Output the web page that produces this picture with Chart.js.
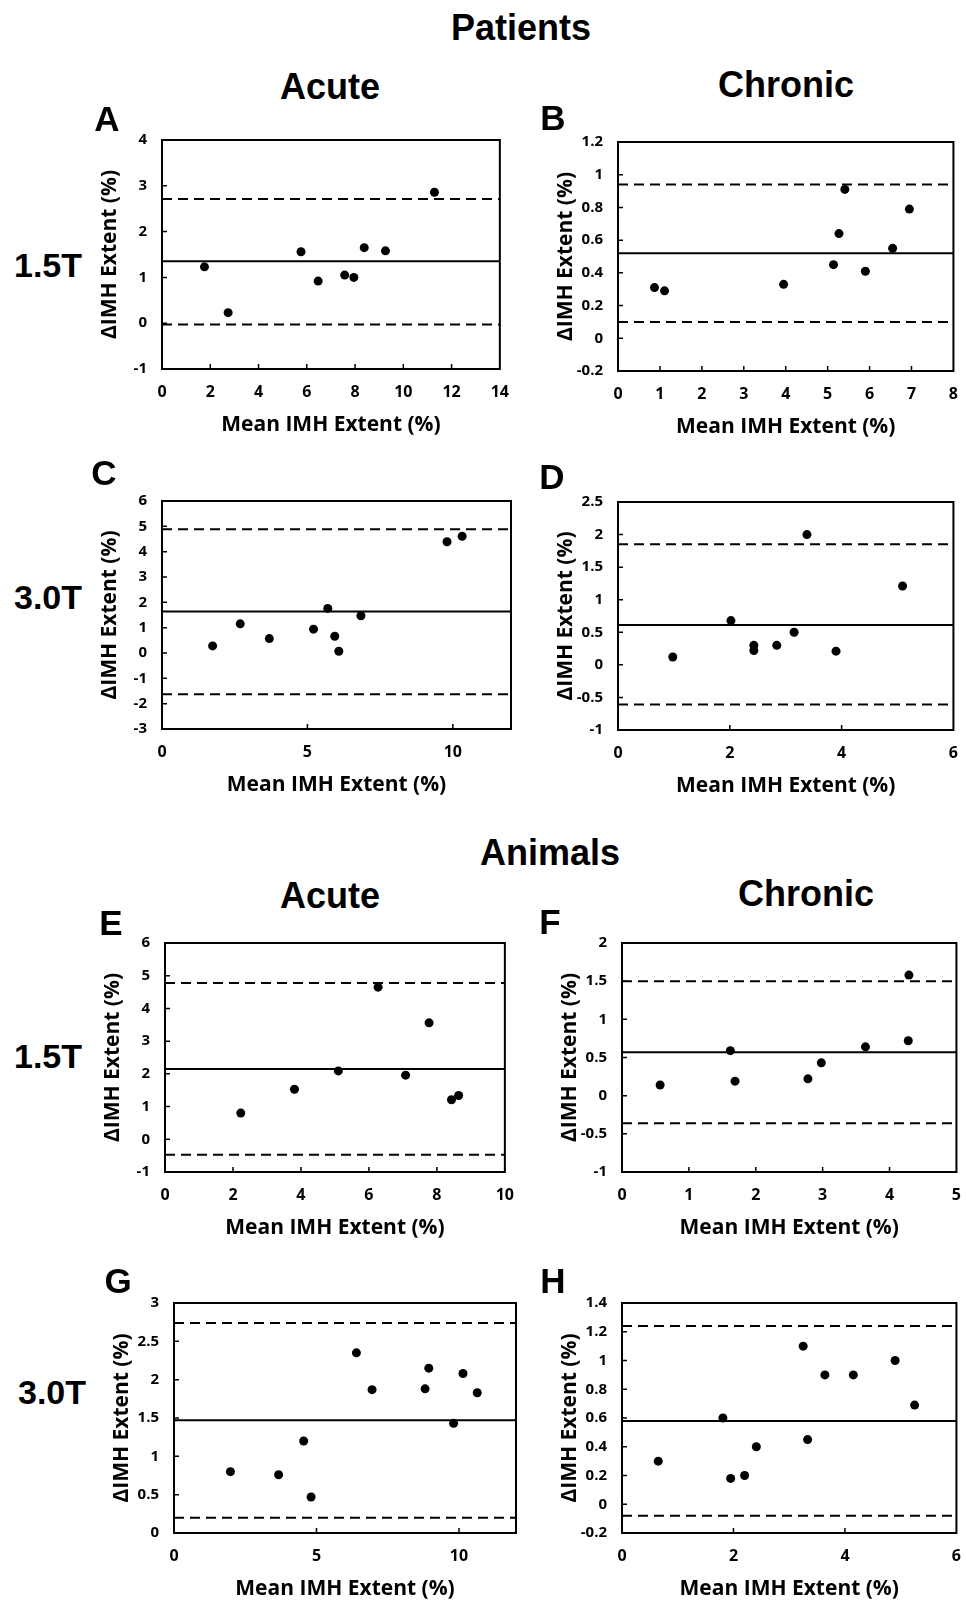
<!DOCTYPE html>
<html>
<head>
<meta charset="utf-8">
<script src="https://cdn.jsdelivr.net/npm/chart.js@4.4.1/dist/chart.umd.min.js"></script>
<style>
  html, body { margin: 0; padding: 0; background: #fff; overflow: hidden; }
  body { width: 966px; height: 1603px; position: relative; }
  .lbl {
    position: absolute;
    transform: translate(-50%, -50%);
    font-family: "Liberation Sans", Arial, sans-serif;
    font-weight: bold;
    line-height: 1;
    white-space: nowrap;
    color: #000;
    z-index: 2;
  }
  .head { font-size: 36px; }
  .row { font-size: 34px; }
  .letter { font-size: 35px; }
  canvas { position: absolute; z-index: 1; }
</style>
</head>
<body>

<div class="lbl head" style="left:521px;top:28px">Patients</div>
<div class="lbl head" style="left:330px;top:87px">Acute</div>
<div class="lbl head" style="left:786px;top:85px">Chronic</div>
<div class="lbl head" style="left:550px;top:853px">Animals</div>
<div class="lbl head" style="left:330px;top:896px">Acute</div>
<div class="lbl head" style="left:806px;top:894px">Chronic</div>

<div class="lbl row" style="left:48px;top:265px">1.5T</div>
<div class="lbl row" style="left:48px;top:597px">3.0T</div>
<div class="lbl row" style="left:48px;top:1056px">1.5T</div>
<div class="lbl row" style="left:52px;top:1392px">3.0T</div>

<div class="lbl letter" style="left:107px;top:118px">A</div>
<div class="lbl letter" style="left:553px;top:117px">B</div>
<div class="lbl letter" style="left:104px;top:472px">C</div>
<div class="lbl letter" style="left:552px;top:476px">D</div>
<div class="lbl letter" style="left:111px;top:922px">E</div>
<div class="lbl letter" style="left:550px;top:921px">F</div>
<div class="lbl letter" style="left:118px;top:1280px">G</div>
<div class="lbl letter" style="left:553px;top:1280px">H</div>

<script>
// Bland-Altman data, mean IMH extent (x) vs difference (y)
// A: patients, acute, 1.5T
const aMean = [1.76, 2.74, 5.76, 6.47, 7.57, 7.95, 8.38, 9.26, 11.29];
const aDiff = [1.23, 0.23, 1.56, 0.92, 1.05, 1.0, 1.65, 1.58, 2.86];
// B: patients, chronic, 1.5T
const bMean = [0.87, 1.11, 3.95, 5.14, 5.27, 5.41, 5.9, 6.55, 6.95];
const bDiff = [0.31, 0.29, 0.33, 0.45, 0.64, 0.91, 0.41, 0.55, 0.79];
// C: patients, acute, 3.0T
const cMean = [1.74, 2.69, 3.69, 5.21, 5.7, 5.94, 6.08, 6.84, 9.8, 10.32];
const cDiff = [0.28, 1.15, 0.57, 0.94, 1.76, 0.66, 0.07, 1.47, 4.39, 4.61];
// D: patients, chronic, 3.0T
const dMean = [0.98, 2.02, 2.43, 2.43, 2.84, 3.15, 3.38, 3.9, 5.09];
const dDiff = [0.12, 0.68, 0.3, 0.22, 0.3, 0.5, 2.0, 0.21, 1.21];
// E: animals, acute, 1.5T
const eMean = [2.23, 3.81, 5.1, 6.27, 7.08, 7.77, 8.43, 8.64];
const eDiff = [0.8, 1.53, 2.09, 4.65, 1.96, 3.56, 1.21, 1.34];
// F: animals, chronic, 1.5T
const fMean = [0.57, 1.62, 1.69, 2.78, 2.98, 3.64, 4.28, 4.29];
const fDiff = [0.14, 0.59, 0.19, 0.22, 0.43, 0.64, 0.72, 1.58];
// G: animals, acute, 3.0T
const gMean = [1.98, 3.67, 4.55, 4.81, 6.4, 6.95, 8.81, 8.94, 9.81, 10.14, 10.64];
const gDiff = [0.8, 0.76, 1.2, 0.47, 2.35, 1.87, 1.88, 2.15, 1.43, 2.08, 1.83];
// H: animals, chronic, 3.0T
const hMean = [0.65, 1.81, 1.95, 2.2, 2.41, 3.25, 3.33, 3.64, 4.15, 4.9, 5.25];
const hDiff = [0.3, 0.6, 0.18, 0.2, 0.4, 1.1, 0.45, 0.9, 0.9, 1.0, 0.69];

// bias and limits of agreement, panels A..H
const bias = [1.35, 0.52, 1.64, 0.61, 2.15, 0.57, 1.47, 0.58];
const upperLoA = [2.71, 0.94, 4.88, 1.85, 4.78, 1.5, 2.74, 1.24];
const lowerLoA = [-0.03, 0.1, -1.63, -0.61, -0.47, -0.36, 0.2, -0.08];

// axis ticks [min, max, step], panels A..H
const xAxes = [[0, 14, 2], [0, 8, 1], [0, 12, 5], [0, 6, 2], [0, 10, 2], [0, 5, 1], [0, 12, 5], [0, 6, 2]];
const yAxes = [[-1, 4, 1], [-0.2, 1.2, 0.2], [-3, 6, 1], [-1, 2.5, 0.5], [-1, 6, 1], [-1, 2, 0.5], [0, 3, 0.5], [-0.2, 1.4, 0.2]];

const xTitle = "Mean IMH Extent (%)";
const yTitle = "\u0394IMH Extent (%)";

// plot area of each panel on the page: left, top, right, bottom
const panels = [
  { x: aMean, y: aDiff, box: [162, 130, 511, 369] },
  { x: bMean, y: bDiff, box: [618, 132, 960, 371] },
  { x: cMean, y: cDiff, box: [162, 491, 511, 729] },
  { x: dMean, y: dDiff, box: [618, 492, 960, 730] },
  { x: eMean, y: eDiff, box: [165, 933, 516, 1172] },
  { x: fMean, y: fDiff, box: [622, 933, 963, 1172] },
  { x: gMean, y: gDiff, box: [174, 1293, 516, 1533] },
  { x: hMean, y: hDiff, box: [622, 1293, 963, 1533] },
];

const xTickFont = { family: "Open Sans", size: 16, weight: "bold" };
const yTickFont = { family: "Open Sans", size: 15, weight: "bold" };
const titleFont = { family: "Open Sans", size: 21, weight: "bold" };

function fmt(v) {
  return String(Number(v.toFixed(2)));
}

// box round the plot area and short inward tick marks
const frame = {
  id: "frame",
  afterDatasetsDraw(chart) {
    const { ctx, chartArea: a, scales } = chart;
    ctx.save();
    ctx.strokeStyle = "#000";
    ctx.lineWidth = 2;
    ctx.strokeRect(a.left, a.top, a.right - a.left, a.bottom - a.top);
    ctx.lineWidth = 1.5;
    ctx.beginPath();
    scales.x.ticks.forEach((t) => {
      const px = scales.x.getPixelForValue(t.value);
      if (px <= a.left + 1 || px >= a.right - 1) return;
      ctx.moveTo(px, a.bottom);
      ctx.lineTo(px, a.bottom - 5);
    });
    scales.y.ticks.forEach((t) => {
      const py = scales.y.getPixelForValue(t.value);
      if (py <= a.top + 1 || py >= a.bottom - 1) return;
      ctx.moveTo(a.left, py);
      ctx.lineTo(a.left + 5, py);
    });
    ctx.stroke();
    ctx.restore();
  },
};

function drawPanel(p, i) {
  const [l, t, r, b] = p.box;
  const YW = 69, XH = 73, PT = 14, PR = 12;
  const canvas = document.createElement("canvas");
  canvas.width = YW + (r - l) + PR;
  canvas.height = PT + (b - t) + XH;
  canvas.style.left = l - YW + "px";
  canvas.style.top = t - PT + "px";
  document.body.appendChild(canvas);

  const [x0, x1, xs] = xAxes[i];
  const [y0, y1, ys] = yAxes[i];

  const hline = (v, dash) => ({
    data: [{ x: x0, y: v }, { x: x1, y: v }],
    showLine: true,
    borderColor: "#000",
    borderWidth: 2,
    borderDash: dash,
    pointRadius: 0,
    fill: false,
  });

  new Chart(canvas, {
    type: "scatter",
    data: {
      datasets: [
        {
          data: p.x.map((v, k) => ({ x: v, y: p.y[k] })),
          backgroundColor: "#000",
          borderWidth: 0,
          pointRadius: 4.5,
        },
        hline(bias[i], []),
        hline(upperLoA[i], [10, 6]),
        hline(lowerLoA[i], [10, 6]),
      ],
    },
    options: {
      responsive: false,
      animation: false,
      layout: { padding: { top: PT, right: PR, left: 0, bottom: 0 } },
      plugins: { legend: { display: false }, tooltip: { enabled: false } },
      scales: {
        x: {
          type: "linear",
          min: x0,
          max: x1,
          grid: { display: false, drawTicks: false },
          border: { display: false },
          ticks: {
            stepSize: xs,
            includeBounds: false,
            autoSkip: false,
            maxRotation: 0,
            padding: 14,
            color: "#000",
            font: xTickFont,
            callback: fmt,
          },
          title: { display: true, text: xTitle, color: "#000", font: titleFont, padding: { top: 4, bottom: 4 } },
          afterFit(s) {
            s.height = XH;
          },
        },
        y: {
          type: "linear",
          min: y0,
          max: y1,
          grid: { display: false, drawTicks: false },
          border: { display: false },
          ticks: {
            stepSize: ys,
            includeBounds: false,
            autoSkip: false,
            padding: 15,
            color: "#000",
            font: yTickFont,
            callback: fmt,
          },
          title: { display: true, text: yTitle, color: "#000", font: titleFont, padding: { top: 4, bottom: 4 } },
          afterFit(s) {
            s.width = YW;
          },
        },
      },
    },
    plugins: [frame],
  });
}

panels.forEach(drawPanel);
</script>
</body>
</html>
